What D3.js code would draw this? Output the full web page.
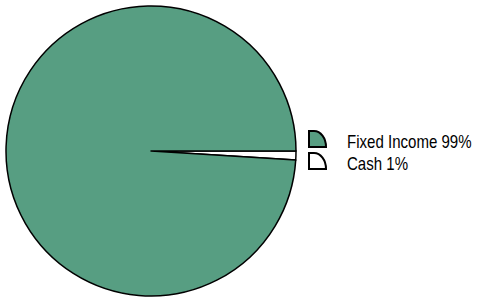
<!DOCTYPE html>
<html>
<head>
<meta charset="utf-8">
<script src="https://cdn.jsdelivr.net/npm/d3@7"></script>
<style>
  body { margin: 0; background: #fff; }
  text { font-family: "Liberation Sans", Arial, sans-serif; }
</style>
</head>
<body>
<div id="chart"></div>
<script>
// data
var labels = ["Cash", "Fixed Income"];
var values = [1, 99];
var colors = ["#ffffff", "#579e82"];
var legendOrder = ["Fixed Income", "Cash"];

var cfg = { width: 482, height: 299, cx: 151, cy: 151, r: 145 };

var svg = d3.select("#chart").append("svg")
    .attr("width", cfg.width)
    .attr("height", cfg.height);

var data = labels.map(function(l, i) { return { label: l, value: values[i], color: colors[i] }; });

// pie starts at 3 o'clock, clockwise
var pie = d3.pie()
    .sort(null)
    .value(function(d) { return d.value; })
    .startAngle(Math.PI / 2)
    .endAngle(Math.PI / 2 + 2 * Math.PI);

var arc = d3.arc().innerRadius(0).outerRadius(cfg.r);

svg.append("g")
    .attr("transform", "translate(" + cfg.cx + "," + cfg.cy + ")")
  .selectAll("path")
    .data(pie(data))
    .enter().append("path")
    .attr("d", arc)
    .attr("fill", function(d) { return d.data.color; })
    .attr("stroke", "#000")
    .attr("stroke-width", 1.5)
    .attr("stroke-linejoin", "round");

// legend
var legend = svg.append("g").attr("transform", "translate(309,131)");
var item = legend.selectAll("g")
    .data(legendOrder.map(function(l) { return data.find(function(d) { return d.label === l; }); }))
    .enter().append("g")
    .attr("transform", function(d, i) { return "translate(0," + (i * 22) + ")"; });

item.append("path")
    .attr("d", "M0,16 L0,0 L5,0 A12,16 0 0 1 17,16 Z")
    .attr("fill", function(d) { return d.color; })
    .attr("stroke", "#000")
    .attr("stroke-width", 2);

// condensed look of the original font
item.append("text")
    .attr("transform", "translate(38,17) scale(0.86,1)")
    .attr("font-size", "17.5px")
    .attr("fill", "#000")
    .text(function(d) { return d.label + " " + d.value + "%"; });
</script>
</body>
</html>
